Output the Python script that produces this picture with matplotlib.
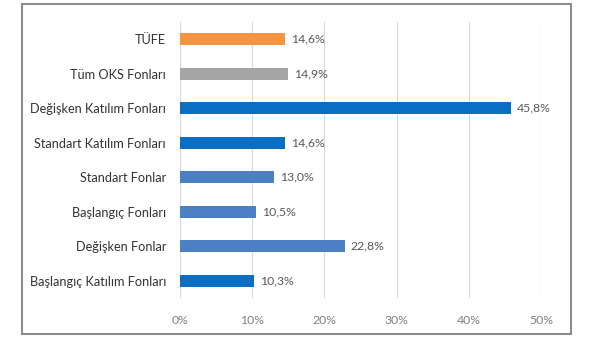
import matplotlib.pyplot as plt
from matplotlib.patches import Rectangle

categories = ['TÜFE', 'Tüm OKS Fonları', 'Değişken Katılım Fonları',
              'Standart Katılım Fonları', 'Standart Fonlar', 'Başlangıç Fonları',
              'Değişken Fonlar', 'Başlangıç Katılım Fonları']
values = [14.6, 14.9, 45.8, 14.6, 13.0, 10.5, 22.8, 10.3]
colors = ['#F59443', '#A5A5A5', '#0A6FC2', '#0A6FC2',
          '#4C80C4', '#4C80C4', '#4C80C4', '#0A6FC2']
xticks = [0, 10, 20, 30, 40, 50]

plt.rcParams['font.family'] = ['Lato', 'DejaVu Sans']

fig = plt.figure(figsize=(5.9, 3.48), dpi=100)
ax = fig.add_axes([0.305, 0.1437, 0.612, 0.7931])

y = list(range(len(categories)))[::-1]
ax.barh(y, values, height=0.36, color=colors, zorder=3)
for yi, v in zip(y, values):
    ax.text(v + 0.85, yi, f'{v:.1f}%'.replace('.', ','), va='center', ha='left',
            fontsize=8.8, color='#595959')

ax.set_xlim(0, 50)
ax.set_ylim(-0.5, 7.5)
ax.set_yticks(y)
ax.set_yticklabels(categories, fontsize=9.2, color='#333333')
ax.set_xticks(xticks)
ax.set_xticklabels([f'{t}%' for t in xticks], fontsize=8.8, color='#7f7f7f')
ax.tick_params(length=0)
ax.tick_params(axis='y', pad=10)
ax.tick_params(axis='x', pad=12)
ax.grid(axis='x', color='#d9d9d9', linewidth=0.8, zorder=0)
for s in ax.spines.values():
    s.set_visible(False)

fig.patches.append(Rectangle((22 / 590, 14 / 348), 549 / 590, 330 / 348,
                             transform=fig.transFigure, fill=False,
                             edgecolor='#8c8c8c', linewidth=1.5))

fig.savefig('out.png', dpi=100)
